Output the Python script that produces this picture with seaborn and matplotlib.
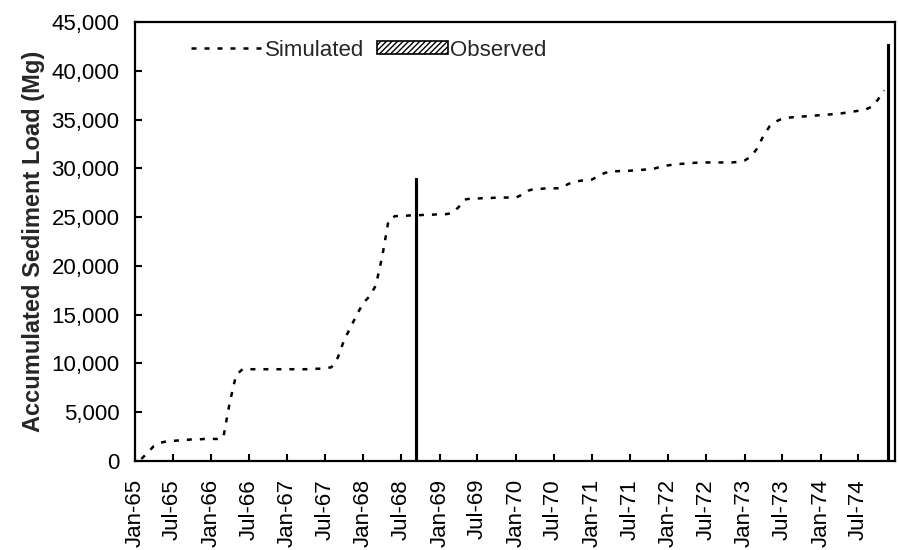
import numpy as np
import pandas as pd
import matplotlib
matplotlib.use("Agg")
import matplotlib.pyplot as plt
import matplotlib.dates as mdates
from matplotlib.patches import Patch
from matplotlib.lines import Line2D
import seaborn as sns

# Simulated accumulated sediment load (Mg), monthly from Feb-1965 to Nov-1974
sim_start = "1965-02-01"
simulated = [
    200, 800, 1500, 1850, 2000, 2050, 2100, 2150, 2200, 2200, 2250,      # Feb-65 .. Dec-65
    2250, 2250, 2400, 6000, 8800, 9400, 9400, 9400, 9400, 9400, 9400, 9400,  # 1966
    9400, 9400, 9400, 9400, 9450, 9450, 9500, 9600, 10600, 12400, 13700, 15000,  # 1967
    16200, 16900, 18000, 21000, 24700, 25100, 25100, 25150, 25200, 25200, 25250, 25250,  # 1968
    25300, 25300, 25400, 26000, 26800, 26900, 26900, 26950, 26950, 27000, 27000, 27000,  # 1969
    27000, 27300, 27700, 27900, 27900, 27950, 27950, 27950, 28300, 28600, 28700, 28800,  # 1970
    28850, 29200, 29500, 29700, 29700, 29750, 29750, 29800, 29850, 29900, 30000, 30200,  # 1971
    30300, 30400, 30450, 30500, 30550, 30600, 30600, 30600, 30600, 30600, 30600, 30650,  # 1972
    30800, 31200, 32000, 33300, 34300, 34800, 35100, 35200, 35250, 35300, 35350, 35400,  # 1973
    35450, 35500, 35550, 35600, 35700, 35800, 35900, 36000, 36300, 37000, 38000,         # 1974
]
obs_dates = ["1968-09-10", "1974-11-20"]
observed = [29000, 42700]

ytick_vals = [0, 5000, 10000, 15000, 20000, 25000, 30000, 35000, 40000, 45000]

sim_df = pd.DataFrame({
    "date": pd.date_range(sim_start, periods=len(simulated), freq="MS"),
    "load": simulated,
})
obs_df = pd.DataFrame({"date": pd.to_datetime(obs_dates), "load": observed})

sns.set_style("ticks")
plt.rcParams["font.family"] = ["Liberation Sans", "DejaVu Sans"]

LS = (0, (2.0, 3.2))

fig = plt.figure(figsize=(8.99, 5.5), dpi=100)
ax = fig.add_axes([0.150, 0.162, 0.846, 0.798])

sns.lineplot(data=sim_df, x="date", y="load", ax=ax, color="black",
             linewidth=1.8, linestyle=LS, legend=False)
ax.bar(obs_df["date"], obs_df["load"], width=11, color="black",
       edgecolor="black", hatch="//////", linewidth=0.8, align="center")

ax.set_xlim(pd.Timestamp("1965-01-01"), pd.Timestamp("1974-12-25"))
ax.set_ylim(0, 45000)
ax.set_yticks(ytick_vals)
ax.yaxis.set_major_formatter(matplotlib.ticker.FuncFormatter(lambda v, p: f"{int(v):,}"))

ax.xaxis.set_major_locator(mdates.MonthLocator(bymonth=[1, 7]))
ax.xaxis.set_major_formatter(mdates.DateFormatter("%b-%y"))
for lbl in ax.get_xticklabels():
    lbl.set_rotation(90)

ax.tick_params(axis="both", direction="in", length=5, width=1.5, labelsize=16,
               colors="black")
ax.tick_params(axis="x", pad=13)
ax.tick_params(axis="y", pad=11)
for s in ax.spines.values():
    s.set_visible(True)
    s.set_linewidth(1.6)
    s.set_color("black")

ax.set_xlabel("")
ax.set_ylabel("Accumulated Sediment Load (Mg)", fontsize=17, fontweight="bold",
              labelpad=5)

handles = [
    Line2D([0], [0], color="black", linewidth=1.8, linestyle=LS),
    Patch(facecolor="white", edgecolor="black", hatch="//////", linewidth=1.2),
]
ax.legend(handles, ["Simulated", "Observed"], ncol=2, frameon=False,
          loc="center left", bbox_to_anchor=(0.048, 0.936), fontsize=16,
          handlelength=3.2, handletextpad=0.12, columnspacing=0.55,
          handleheight=0.55)

fig.savefig("out.png", dpi=100)
